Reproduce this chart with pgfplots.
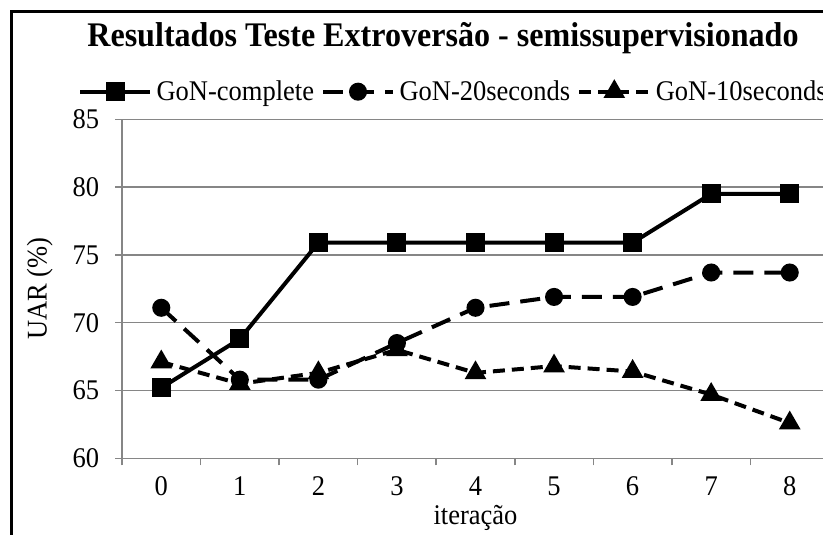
\documentclass[border=0pt]{standalone}
\usepackage{pgfplots}
\pgfplotsset{compat=1.18}
\usepackage{fontspec}
\setmainfont{Liberation Serif}[FakeStretch=0.93]
\definecolor{gridgray}{RGB}{134,134,134}
\newcommand\ticksize{\fontsize{28.5bp}{32bp}\selectfont}
\newcommand\titlefont{\fontsize{34.5bp}{38bp}\selectfont\bfseries}
\begin{document}
\begin{tikzpicture}[x=1bp,y=1bp]
\useasboundingbox (0,0) rectangle (823,535);
\clip (0,0) rectangle (823,535);
\draw[line width=3bp] (11,-10) -- (11,523) -- (840,523);
\begin{axis}[
  at={(122bp,76.7bp)}, anchor=south west, scale only axis,
  width=707bp, height=339bp,
  xmin=-0.5, xmax=8.5, ymin=60, ymax=85,
  axis lines*=left,
  axis line style={gridgray, line width=1.5bp},
  xtick={0,...,8},
  xticklabels={0,1,2,3,4,5,6,7,8},
  major x tick style={draw=none},
  minor xtick={-0.5,0.5,...,8.5},
  ytick={60,65,...,85},
  tick align=outside, major tick length=7bp, minor tick length=7bp,
  tick style={gridgray, line width=1.5bp},
  ymajorgrids, grid style={gridgray, line width=1.5bp},
  /pgf/number format/assume math mode=true,
  tick label style={font=\ticksize},
  yticklabel style={anchor=east, inner sep=0pt, xshift=-15.7bp},
  xticklabel style={anchor=base, inner sep=0pt, yshift=-30bp},
  xlabel={iteração},
  xlabel style={font=\ticksize, at={(axis description cs:0.5,-0.1967)}, anchor=base, inner sep=0pt},
  ylabel={UAR (\%)},
  ylabel style={font=\ticksize, at={(axis description cs:-0.1065,0.5)}, anchor=base, rotate=0, inner sep=0pt},
  title={Resultados Teste Extroversão - semissupervisionado},
  title style={font=\titlefont, at={(axis description cs:0.454,1.1956)}, anchor=base, inner sep=0pt},
  legend columns=3,
  legend style={draw=none, fill=none, inner sep=0pt, outer sep=0pt,
    at={(axis description cs:-0.0622,1.0814)}, anchor=west,
    nodes={inner sep=0pt, font=\ticksize},
    /tikz/every odd column/.append style={column sep=4.5bp},
    /tikz/every even column/.append style={column sep=7bp}},
  legend image code/.code={\draw[mark repeat=2,mark phase=2,#1] plot coordinates {(0bp,0bp) (35bp,0bp) (70bp,0bp)};},
]
\addplot[black, line width=4bp, mark=square*, mark size=7.5bp, mark options={solid}]
  coordinates {(0,65.2) (1,68.8) (2,75.9) (3,75.9) (4,75.9) (5,75.9) (6,75.9) (7,79.5) (8,79.5)};
\addlegendentry{GoN-complete}
\addplot[black, line width=4bp, dash pattern=on 20bp off 11bp, mark=*, mark size=7bp, mark options={solid}]
  coordinates {(0,71.1) (1,65.8) (2,65.8) (3,68.5) (4,71.1) (5,71.9) (6,71.9) (7,73.7) (8,73.7)};
\addlegendentry{GoN-20seconds}
\addplot[black, line width=4bp, dash pattern=on 12bp off 7bp, mark=triangle*, mark size=8.5bp, mark options={solid}]
  coordinates {(0,67.1) (1,65.5) (2,66.3) (3,68.0) (4,66.3) (5,66.8) (6,66.4) (7,64.7) (8,62.6)};
\addlegendentry{GoN-10seconds}
\end{axis}
\end{tikzpicture}
\end{document}
